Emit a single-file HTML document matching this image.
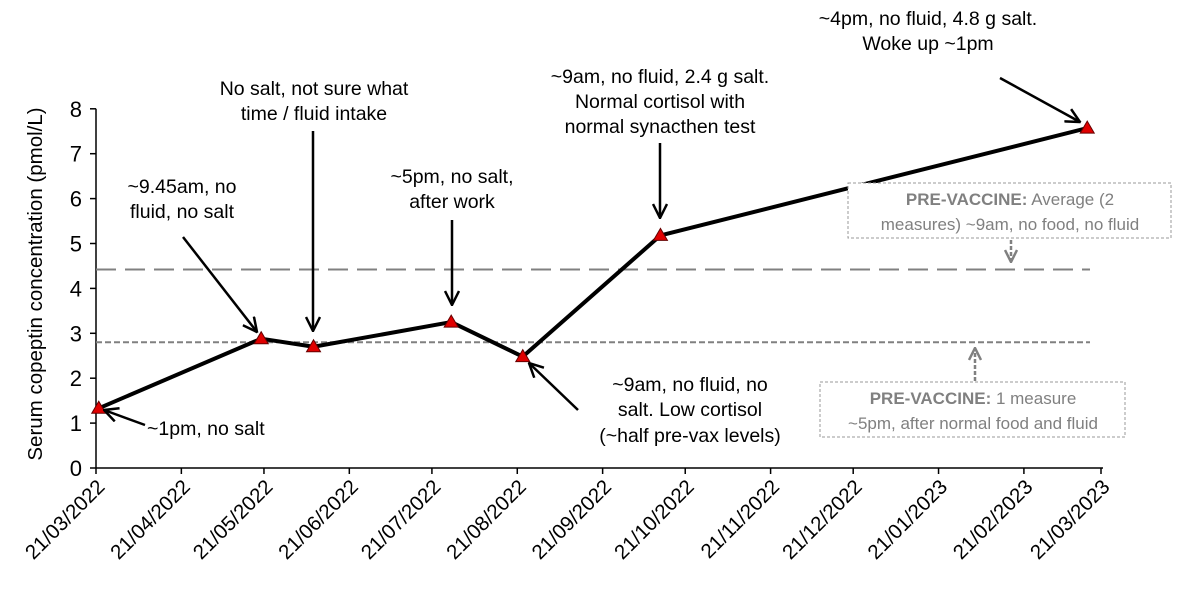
<!DOCTYPE html>
<html><head><meta charset="utf-8"><style>
body{margin:0;background:#fff;}
svg{display:block;font-family:"Liberation Sans",Arial,sans-serif;}
</style></head><body>
<svg id="chart" width="1200" height="601" viewBox="0 0 1200 601">
<defs>
<marker id="ah" viewBox="0 0 16 16" refX="15" refY="8" markerWidth="16" markerHeight="16" markerUnits="userSpaceOnUse" orient="auto"><path d="M1,1 L15,8 L1,15" fill="none" stroke="#000" stroke-width="2.5"/></marker>
<marker id="ahg" viewBox="0 0 14 14" refX="13" refY="7" markerWidth="14" markerHeight="14" markerUnits="userSpaceOnUse" orient="auto"><path d="M1,1 L13,7 L1,13" fill="none" stroke="#808080" stroke-width="2.5"/></marker>
</defs>
<g id="axes"></g>
<g id="refs"></g>
<g id="series"></g>
<g id="notes" font-size="19.5" text-anchor="middle" fill="#000">
<text x="147" y="435" text-anchor="start">~1pm, no salt</text>
<line x1="145" y1="425" x2="104" y2="410" stroke="#000" stroke-width="2.5" marker-end="url(#ah)"/>
<text x="182" y="193">~9.45am, no</text>
<text x="182" y="218">fluid, no salt</text>
<line x1="183" y1="237" x2="257" y2="332" stroke="#000" stroke-width="2.5" marker-end="url(#ah)"/>
<text x="314" y="95">No salt, not sure what</text>
<text x="314" y="120">time / fluid intake</text>
<line x1="313" y1="131" x2="313" y2="331" stroke="#000" stroke-width="2.5" marker-end="url(#ah)"/>
<text x="452" y="183">~5pm, no salt,</text>
<text x="452" y="208">after work</text>
<line x1="452" y1="220" x2="452" y2="305" stroke="#000" stroke-width="2.5" marker-end="url(#ah)"/>
<text x="660" y="83">~9am, no fluid, 2.4 g salt.</text>
<text x="660" y="108">Normal cortisol with</text>
<text x="660" y="133">normal synacthen test</text>
<line x1="660" y1="143" x2="660" y2="218" stroke="#000" stroke-width="2.5" marker-end="url(#ah)"/>
<text x="928" y="25">~4pm, no fluid, 4.8 g salt.</text>
<text x="928" y="50">Woke up ~1pm</text>
<line x1="1000" y1="78" x2="1080" y2="122" stroke="#000" stroke-width="2.5" marker-end="url(#ah)"/>
<text x="690" y="391">~9am, no fluid, no</text>
<text x="690" y="416">salt. Low cortisol</text>
<text x="690" y="442">(~half pre-vax levels)</text>
<line x1="578" y1="410" x2="529" y2="363" stroke="#000" stroke-width="2.5" marker-end="url(#ah)"/>
<rect x="848" y="183" width="323" height="55" fill="#fff" stroke="#999" stroke-width="1" stroke-dasharray="3,2"/>
<text x="1010" y="205" fill="#808080" font-size="17"><tspan font-weight="bold">PRE-VACCINE:</tspan> Average (2</text>
<text x="1010" y="230" fill="#808080" font-size="17">measures) ~9am, no food, no fluid</text>
<line x1="1011" y1="240" x2="1011" y2="262" stroke="#808080" stroke-width="2.5" stroke-dasharray="4,2" marker-end="url(#ahg)"/>
<rect x="820" y="382" width="305" height="55" fill="#fff" stroke="#999" stroke-width="1" stroke-dasharray="3,2"/>
<text x="973" y="404" fill="#808080" font-size="17"><tspan font-weight="bold">PRE-VACCINE:</tspan> 1 measure</text>
<text x="973" y="429" fill="#808080" font-size="17">~5pm, after normal food and fluid</text>
<line x1="975" y1="381" x2="975" y2="348" stroke="#808080" stroke-width="2.5" stroke-dasharray="4,2" marker-end="url(#ahg)"/>
</g>
</svg>
<script>
const tickLabels = ["21/03/2022","21/04/2022","21/05/2022","21/06/2022","21/07/2022","21/08/2022","21/09/2022","21/10/2022","21/11/2022","21/12/2022","21/01/2023","21/02/2023","21/03/2023"];
const tickDays = [0,31,61,92,122,153,184,214,245,275,306,337,365];
const yTicks = [0,1,2,3,4,5,6,7,8];
const sampleDays = [1,60,79,129,155,205,360];
const copeptin = [1.33,2.88,2.70,3.25,2.48,5.18,7.57];
const refLevels = [4.42,2.80];
const NS='http://www.w3.org/2000/svg';
const X0=96, PXD=1005/365, Y0=468, PXU=44.9;
const xs=d=>X0+d*PXD, ys=v=>Y0-v*PXU;
function mk(tag,attrs,parent){const e=document.createElementNS(NS,tag);for(const k in attrs)e.setAttribute(k,attrs[k]);parent.appendChild(e);return e;}
const axes=document.getElementById('axes');
let e=mk('line',{x1:X0,y1:ys(8),x2:X0,y2:Y0,stroke:'#000','stroke-width':1.5},axes);


e=mk('line',{x1:X0,y1:Y0,x2:xs(365)+2,y2:Y0,stroke:'#000','stroke-width':1.5},axes);


yTicks.forEach(v=>{
  let t=mk('line',{x1:X0-6,y1:ys(v),x2:X0,y2:ys(v),stroke:'#000','stroke-width':1.5},axes);
  
  
  let l=mk('text',{x:X0-14,y:ys(v)+8,'font-size':22,'text-anchor':'end'},axes);
  l.textContent=v;
  
  
});
tickDays.forEach((d,i)=>{
  const x=xs(d);
  let t=mk('line',{x1:x,y1:Y0,x2:x,y2:Y0+6,stroke:'#000','stroke-width':1.5},axes);
  
  
  let l=mk('text',{x:0,y:0,'font-size':20.5,'text-anchor':'end',transform:`translate(${x+10},${Y0+20}) rotate(-45)`},axes);
  l.textContent=tickLabels[i];
  
  
});
e=mk('text',{x:0,y:0,'font-size':20.5,'text-anchor':'middle',transform:`translate(42,284) rotate(-90)`},axes);
e.textContent='Serum copeptin concentration (pmol/L)';


const refs=document.getElementById('refs');
e=mk('line',{x1:X0,y1:ys(refLevels[0]),x2:1090,y2:ys(refLevels[0]),stroke:'#808080','stroke-width':2,'stroke-dasharray':'20,9'},refs);


e=mk('line',{x1:X0,y1:ys(refLevels[1]),x2:1090,y2:ys(refLevels[1]),stroke:'#808080','stroke-width':2,'stroke-dasharray':'6,3'},refs);


const ser=document.getElementById('series');
e=mk('polyline',{points:sampleDays.map((d,i)=>xs(d)+','+ys(copeptin[i])).join(' '),fill:'none',stroke:'#000','stroke-width':4,'stroke-linejoin':'round'},ser);


sampleDays.forEach((d,i)=>{
  const x=xs(d),y=ys(copeptin[i]);
  let p=mk('polygon',{points:`${x},${y-7} ${x-7},${y+5} ${x+7},${y+5}`,fill:'#e00000',stroke:'#600','stroke-width':1},ser);
  
  
});
</script>
</body></html>
